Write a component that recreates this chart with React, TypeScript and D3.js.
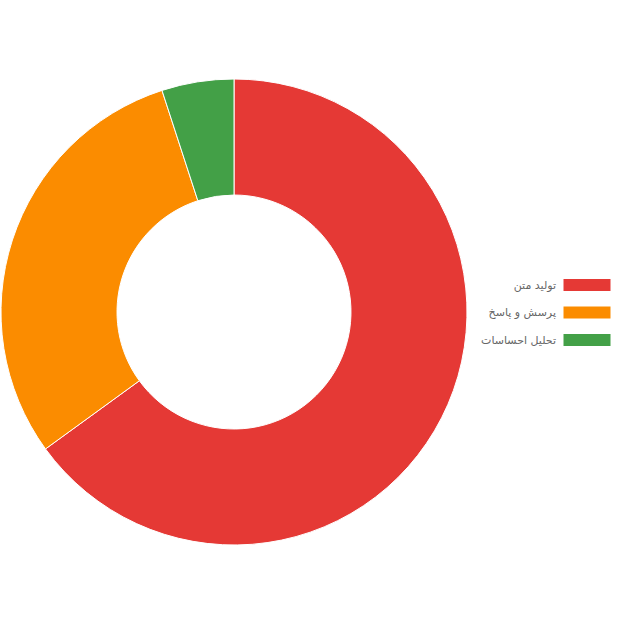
import React from "react";
import * as d3 from "d3";

const categories = ["تولید متن", "پرسش و پاسخ", "تحلیل احساسات"];
const values = [65, 30, 5];
const colors = ["#E53935", "#FB8C00", "#43A047"];

export default function App() {
  const W = 625, H = 625;
  const cx = 234, cy = 312, R = 233, r = 117;
  const pie = d3.pie<number>().sort(null).value((d) => d)(values);
  const arc = d3.arc<d3.PieArcDatum<number>>().innerRadius(r).outerRadius(R);
  const legendY = d3.scalePoint<string>().domain(categories).range([285, 340]);
  return (
    <svg width={W} height={H} style={{ position: "absolute", left: 0, top: 0 }}>
      <g transform={`translate(${cx},${cy})`}>
        {pie.map((p, i) => (
          <path key={i} d={arc(p) || ""} fill={colors[i]} stroke="#fff" strokeWidth={1} />
        ))}
      </g>
      {categories.map((c, i) => (
        <g key={c} transform={`translate(0,${legendY(c)})`}>
          <rect x={563} y={-6.5} width={48} height={13} fill={colors[i]} stroke="#fff" strokeWidth={1} />
          <text x={556} y={0} dy="0.35em" textAnchor="end" fontSize={11} fill="#666" fontFamily="DejaVu Sans, sans-serif">
            {c}
          </text>
        </g>
      ))}
    </svg>
  );
}
